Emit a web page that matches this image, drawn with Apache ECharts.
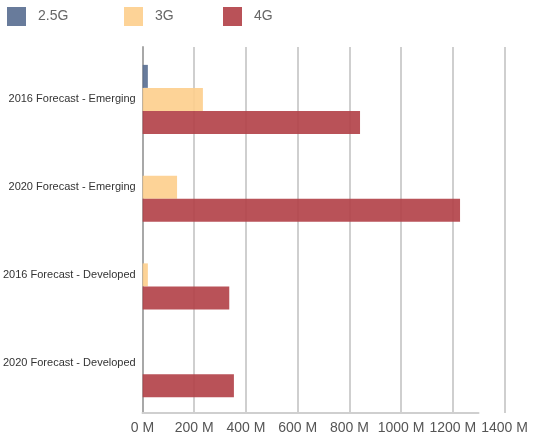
<!DOCTYPE html>
<html>
<head>
    <meta charset="UTF-8">
    <title>Forecast by network</title>
    <script src="https://cdn.jsdelivr.net/npm/echarts@6/dist/echarts.min.js"></script>
    <style>
        html, body { margin: 0; padding: 0; background: #fff; }
        #chart { width: 545px; height: 444px; }
    </style>
</head>
<body>
    <div id="chart"></div>
    <script>
        // categories, top to bottom
        const categories = [
            '2016 Forecast - Emerging',
            '2020 Forecast - Emerging',
            '2016 Forecast - Developed',
            '2020 Forecast - Developed'
        ];
        const seriesNames = ['2.5G', '3G', '4G'];
        // values in millions
        const values25G = [20, 0, 0, 0];
        const values3G = [233, 133, 20, 0];
        const values4G = [841, 1228, 335, 353];
        const xTicks = [0, 200, 400, 600, 800, 1000, 1200, 1400];

        const colors = ['#5b7092', '#fdcf8e', '#b3434a'];
        const font = '"Liberation Sans", Arial, sans-serif';

        const chart = echarts.init(document.getElementById('chart'));

        const legendAt = [7, 124, 223];
        const legends = seriesNames.map((name, i) => ({
            data: [name],
            left: legendAt[i],
            top: 7,
            padding: 0,
            itemWidth: 19,
            itemHeight: 19,
            itemGap: 0,
            icon: 'rect',
            textStyle: { fontFamily: font, fontSize: 14, color: '#666', padding: [0, 0, 0, 7] }
        }));

        const xMin = xTicks[0], xMax = xTicks[xTicks.length - 1];
        const step = xTicks[1] - xTicks[0];

        const data = [values25G, values3G, values4G];

        chart.setOption({
            animation: false,
            legend: legends,
            grid: [
                // background grid for the split lines and tick labels
                { left: 142.5, top: 47, width: 362, height: 366 },
                // grid where the bars live
                { left: 142.5, top: 55.5, width: 362, height: 351 },
                // short bottom axis line
                { left: 142.5, top: 47, width: 336, height: 366 }
            ],
            xAxis: [
                {
                    gridIndex: 0, type: 'value', min: xMin, max: xMax, interval: step,
                    axisLine: { show: false }, axisTick: { show: false },
                    splitLine: { lineStyle: { color: '#cfcfcf', width: 2 } },
                    axisLabel: {
                        formatter: v => v + ' M', fontFamily: font, fontSize: 14,
                        color: '#555', margin: 8
                    }
                },
                {
                    gridIndex: 1, type: 'value', min: xMin, max: xMax, show: false
                },
                {
                    gridIndex: 2, type: 'value', min: 0, max: 1, position: 'bottom',
                    axisLine: { show: true, lineStyle: { color: '#cfcfcf', width: 2 } },
                    axisTick: { show: false }, axisLabel: { show: false },
                    splitLine: { show: false }
                }
            ],
            yAxis: [
                {
                    gridIndex: 0, type: 'value', min: 0, max: 1,
                    axisLine: { show: true, lineStyle: { color: '#a8a8a8', width: 2 } },
                    axisTick: { show: false }, axisLabel: { show: false },
                    splitLine: { show: false }
                },
                {
                    gridIndex: 1, type: 'category', data: categories, inverse: true,
                    axisLine: { show: false }, axisTick: { show: false },
                    axisLabel: { fontFamily: font, fontSize: 11, color: '#333', margin: 7 }
                },
                {
                    gridIndex: 2, type: 'value', min: 0, max: 1, show: false
                }
            ],
            series: seriesNames.map((name, i) => ({
                name,
                type: 'bar',
                xAxisIndex: 1,
                yAxisIndex: 1,
                barWidth: 23,
                barGap: '0%',
                itemStyle: { color: colors[i], opacity: 0.92 },
                data: data[i]
            }))
        });
    </script>
</body>
</html>
